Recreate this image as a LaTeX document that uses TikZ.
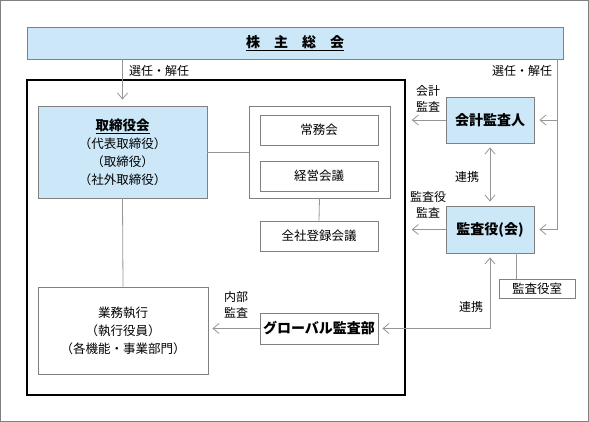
\documentclass[tikz,border=0pt]{standalone}
\usepackage{fontspec}
\setmainfont{Noto Sans CJK JP}
\usetikzlibrary{arrows.meta,shadows}
\definecolor{boxblue}{RGB}{204,232,248}
\definecolor{boxgray}{RGB}{128,128,128}
\definecolor{linegray}{RGB}{150,150,150}
\tikzset{
	box/.style={draw=boxgray, fill=white, line width=0.8pt, inner sep=0pt, align=center,
		drop shadow={shadow xshift=1.3pt, shadow yshift=-1.3pt, fill=black!55, opacity=1},
		font=\fontsize{12.5}{18}\selectfont},
	bluebox/.style={box, fill=boxblue},
	ln/.style={draw=linegray, line width=0.8pt},
	arr/.style={ln, -{Straight Barb[length=6pt,width=10pt]}, shorten >=5pt},
	biarr/.style={ln, {Straight Barb[length=6pt,width=10pt]}-{Straight Barb[length=6pt,width=10pt]}, shorten >=4pt, shorten <=4pt},
	lbl/.style={font=\fontsize{12}{16}\selectfont, align=center, inner sep=0pt}
}
\begin{document}
\begin{tikzpicture}[x=1pt,y=-1pt]
		\useasboundingbox (0,0) rectangle (589,422);
		\draw[boxgray, line width=1pt] (0.5,0.5) rectangle (588.5,421.5);
		\node[bluebox, minimum width=536pt, minimum height=32pt, font=\fontsize{14}{16}\selectfont\bfseries] (soukai) at (295,43) {\underline{株\hspace{1em}主\hspace{1em}総\hspace{1em}会}};
		\node[draw=black, line width=1.5pt, minimum width=378pt, minimum height=315pt] (company) at (216,237.5) {};
		\node[bluebox, minimum width=169pt, minimum height=92pt] (tori) at (122.5,152) {\fontsize{13.5}{18}\selectfont\bfseries\underline{取締役会}\\（代表取締役）\\（取締役）\\（社外取締役）};
		\node[box, minimum width=141pt, minimum height=92pt] (kaigi) at (319.5,152) {};
		\node[box, minimum width=118pt, minimum height=30pt] (jomu) at (319,130) {常務会};
		\node[box, minimum width=118pt, minimum height=30pt] (keiei) at (319,176) {経営会議};
		\node[box, minimum width=118pt, minimum height=30pt] (zensha) at (319,236) {全社登録会議};
		\node[box, minimum width=170pt, minimum height=87pt] (gyomu) at (123,330.5) {業務執行\\（執行役員）\\（各機能・事業部門）};
		\node[box, minimum width=118pt, minimum height=31pt, font=\fontsize{14}{16}\selectfont\bfseries] (global) at (319,328.5) {グローバル監査部};
		\node[bluebox, minimum width=88pt, minimum height=46pt, font=\fontsize{14}{16}\selectfont\bfseries] (kaikei) at (490,120) {会計監査人};
		\node[bluebox, minimum width=88pt, minimum height=47pt, font=\fontsize{14}{16}\selectfont\bfseries] (kansa) at (490,229.5) {監査役(会)};
		\node[box, minimum width=76pt, minimum height=19pt] (shitsu) at (537,288.5) {監査役室};
		\node[lbl] (senL) at (159,71) {選任・解任};
		\node[lbl] (senR) at (522,71) {選任・解任};
		\node[lbl] (kaikeiL) at (428,98.5) {会計\\監査};
		\node[lbl] (kansaL) at (428,205) {監査役\\監査};
		\node[lbl] (renkei1) at (467,177) {連携};
		\node[lbl] (renkei2) at (471,307) {連携};
		\node[lbl] (naibu) at (236,305) {内部\\監査};
		\coordinate (selR) at (557,59);
		\draw[arr, shorten >=6pt] (soukai.south -| tori) -- (tori.north);
		\draw[ln] (tori.east) -- (kaigi.west);
		\draw[ln] (kaigi.south) -- (zensha.north);
		\draw[ln] (tori.south) -- (gyomu.north);
		\draw[arr, shorten >=4pt] (global.west) -- (global.west -| gyomu.east);
		\draw[arr] (selR) |- (kansa.east);
		\draw[arr] (kaikei.east -| selR) -- (kaikei.east);
		\draw[arr, shorten >=6pt] (kaikei.west) -- (kaikei.west -| company.east);
		\draw[arr, shorten >=6pt] (kansa.west) -- (kansa.west -| company.east);
		\draw[biarr] (kaikei.south) -- (kansa.north);
		\draw[ln] ([xshift=26pt]kansa.south) -- ([xshift=26pt]kansa.south |- shitsu.north);
		\draw[biarr] (global.east) -| (kansa.south);
		\end{tikzpicture}
\end{document}
